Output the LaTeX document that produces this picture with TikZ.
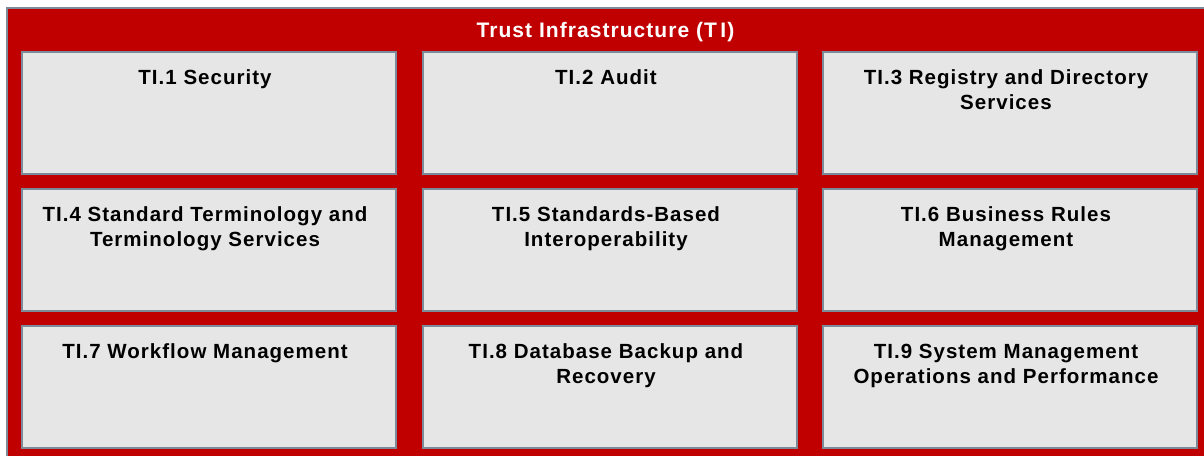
\documentclass[tikz,border=0pt]{standalone}
\usepackage{fontspec}
\setmainfont{Liberation Sans}[LetterSpace=5]
\definecolor{tired}{HTML}{C00000}
\definecolor{tifill}{HTML}{E6E6E6}
\definecolor{tiedge}{HTML}{7C8B99}
\tikzset{
  tibox/.style={draw=tiedge, line width=1.2pt, fill=tifill},
  tilabel/.style={anchor=north, inner sep=0pt, align=center, text=black,
    font=\bfseries\fontsize{20.5}{25}\selectfont},
  titlelabel/.style={anchor=north, inner sep=0pt, text=white,
    font=\bfseries\fontsize{21}{25}\selectfont}
}
\begin{document}
\begin{tikzpicture}[x=1pt,y=-1pt]
\useasboundingbox (0,0) rectangle (1204,455);
\fill[white] (0,0) rectangle (1204,455);
\fill[tired] (7,8) rectangle (1210,462);
\draw[tiedge, line width=1.2pt] (7,470) -- (7,8) -- (1210,8);
\node[titlelabel] (title) at (605.5,22.5) {Trust Infrastructure (T\,I)};
% boxes
\foreach \r/\ya in {1/52, 2/189, 3/326}{
  \foreach \c/\xa in {1/22, 2/423, 3/823}{
    \draw[tibox] (\xa,\ya) rectangle ++(374,122) coordinate (b\r\c);
  }
}
\node[tilabel] (t1) at (205,69.5) {TI.1 Security};
\node[tilabel] (t2) at (606,69.5) {TI.2 Audit};
\node[tilabel] (t3) at (1006,69.5) {TI.3 Registry and Directory\\Services};
\node[tilabel] (t4) at (205,206.5) {TI.4 Standard Terminology and\\Terminology Services};
\node[tilabel] (t5) at (606,206.5) {TI.5 Standards-Based\\Interoperability};
\node[tilabel] (t6) at (1006,206.5) {TI.6 Business Rules\\Management};
\node[tilabel] (t7) at (205,343.5) {TI.7 Workflow Management};
\node[tilabel] (t8) at (606,343.5) {TI.8 Database Backup and\\Recovery};
\node[tilabel] (t9) at (1006,343.5) {TI.9 System Management\\Operations and Performance};
\end{tikzpicture}
\end{document}
